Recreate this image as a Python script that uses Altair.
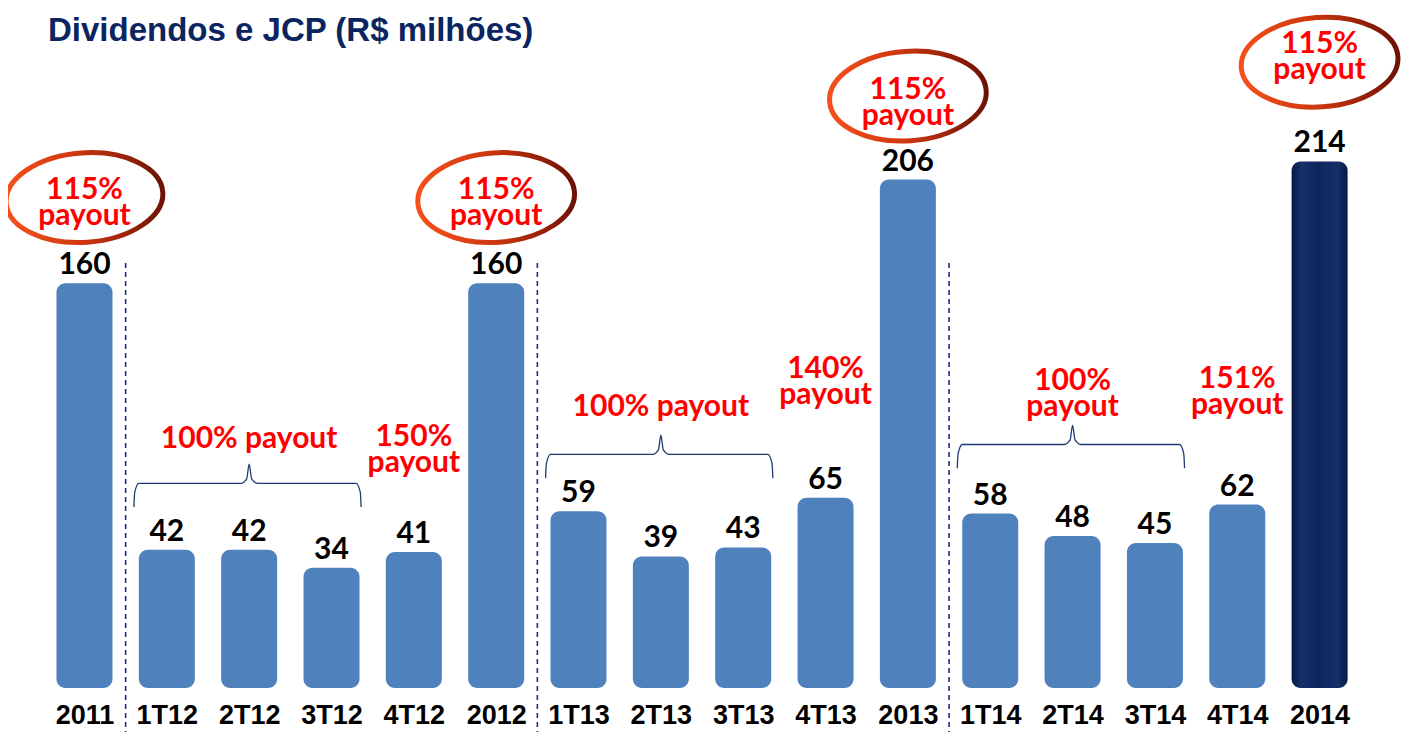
import json
import altair as alt
import pandas as pd

# ---------------- data ----------------
categories = ["2011", "1T12", "2T12", "3T12", "4T12", "2012",
              "1T13", "2T13", "3T13", "4T13", "2013",
              "1T14", "2T14", "3T14", "4T14", "2014"]
values = [160, 42, 42, 34, 41, 160, 59, 39, 43, 65, 206, 58, 48, 45, 62, 214]

payout_cats = ["2011", "2012", "2013", "2014"]
payout_texts = ["115%\npayout", "115%\npayout", "115%\npayout", "115%\npayout"]

group_anchor_cats = ["2T12", "4T12", "2T13", "4T13", "2T14", "4T14"]
group_texts = ["100% payout", "150%\npayout", "100% payout",
               "140%\npayout", "100%\npayout", "151%\npayout"]

brace_starts = ["1T12", "1T13", "1T14"]
brace_ends = ["3T12", "3T13", "3T14"]

highlight_cat = "2014"
TITLE = "Dividendos e JCP (R$ milhões)"

# ---------------- layout (data units) ----------------
Y0, Y1 = -19.3, 282.0
X0, X1 = -0.868, 15.94
ELLIPSE_LEVEL = [198, 198, 243, 258]
PAYOUT_TEXT_LEVEL = [195.5, 195.5, 240, 260.5]
GROUP_TEXT_LEVEL = [91, 86, 105, 116.5, 111, 112]
BRACE_LEVEL = [71.4, 84.2, 88.6]
SEP_TOP = 169

W, H = 1394, 680
LH = 26  # line height of two-line annotations

idx = {c: i for i, c in enumerate(categories)}

bars = pd.DataFrame({"x": list(range(len(categories))), "cat": categories, "val": values})
bars["hl"] = [1 if c == highlight_cat else 0 for c in categories]

ell = pd.DataFrame({"x": [idx[c] for c in payout_cats], "y": ELLIPSE_LEVEL})
ptxt = pd.DataFrame({"x": [idx[c] for c in payout_cats], "y": PAYOUT_TEXT_LEVEL, "t": payout_texts})
gtxt = pd.DataFrame({"x": [idx[c] for c in group_anchor_cats], "y": GROUP_TEXT_LEVEL, "t": group_texts})
gtxt["n"] = [t.count("\n") + 1 for t in group_texts]

seps = pd.DataFrame({"x": [i + 0.5 for i in range(len(categories) - 1)
                            if "T" not in categories[i] and "T" in categories[i + 1]]})

rows = []
for b, (a, z, lvl) in enumerate(zip(brace_starts, brace_ends, BRACE_LEVEL)):
    L = idx[a] - 0.4
    R = idx[z] + 0.36
    C = (idx[a] + idx[z]) / 2
    pts = [(L, lvl - 10.5), (L + 0.01, lvl - 4), (L + 0.06, lvl), (C - 0.1, lvl),
           (C - 0.03, lvl + 2), (C, lvl + 8.5), (C + 0.03, lvl + 2), (C + 0.1, lvl),
           (R - 0.06, lvl), (R - 0.01, lvl - 4), (R, lvl - 10.5)]
    for k, (px, py) in enumerate(pts):
        rows.append({"b": b, "o": k, "x": px, "y": py})
braces = pd.DataFrame(rows)

xs = alt.Scale(domain=[X0, X1], nice=False, zero=False)
ys = alt.Scale(domain=[Y0, Y1], nice=False, zero=False)

label_expr = json.dumps(categories) + "[datum.value]"
x_axis = alt.Axis(values=list(range(len(categories))), labelExpr=label_expr,
                  domain=False, ticks=False, grid=False, title=None,
                  labelFont="Liberation Sans", labelFontWeight="bold",
                  labelFontSize=27, labelColor="#000000", labelPadding=14,
                  labelOverlap=False, labelFlush=False)


def X(field="x"):
    return alt.X(f"{field}:Q", scale=xs, axis=x_axis)


def Yq(field="y"):
    return alt.Y(f"{field}:Q", scale=ys, axis=None)


base_bar = alt.Chart(bars).transform_calculate(base=str(Y0)).encode(
    x=X(), y=Yq("val"), y2="base:Q")

bars_light = base_bar.mark_bar(width=56, cornerRadius=9, color="#4F81BD").transform_filter(
    "datum.hl == 0")

navy = alt.LinearGradient(
    gradient="linear", x1=0, x2=1, y1=0, y2=0,
    stops=[alt.GradientStop(offset=0, color="#081A44"),
           alt.GradientStop(offset=0.18, color="#152F6A"),
           alt.GradientStop(offset=0.5, color="#0E265C"),
           alt.GradientStop(offset=0.82, color="#152F6A"),
           alt.GradientStop(offset=1, color="#081A44")])
bars_dark = base_bar.mark_bar(width=56, cornerRadius=9, color=navy).transform_filter(
    "datum.hl == 1")

val_labels = alt.Chart(bars).mark_text(
    font="Lato", fontWeight="bold", fontSize=30, color="#000000",
    baseline="alphabetic", dy=-9).encode(
    x=X(), y=Yq("val"), text="val:Q")

seps_layer = alt.Chart(seps).transform_calculate(
    top=str(SEP_TOP), bot=str(Y0 - 30)).mark_rule(
    color="#1F2A80", strokeDash=[5, 4], strokeWidth=1.6).encode(
    x=X(), y=Yq("top"), y2="bot:Q")

ELLIPSE = "M-1,0A1,0.57,0,1,1,1,0A1,0.57,0,1,1,-1,0Z"
red_grad = alt.LinearGradient(
    gradient="linear", x1=0, x2=1, y1=0, y2=0,
    stops=[alt.GradientStop(offset=0, color="#F5501C"),
           alt.GradientStop(offset=0.45, color="#D0380F"),
           alt.GradientStop(offset=1, color="#6E1205")])
ellipses = alt.Chart(ell).mark_point(
    shape=ELLIPSE, size=157 * 157, filled=False, stroke=red_grad,
    strokeWidth=5, opacity=1, angle=356).encode(x=X(), y=Yq())

red_text = dict(font="Lato", fontWeight="bold", fontSize=30, color="#FF0000",
                lineBreak="\n", lineHeight=LH, baseline="middle")

payout_text = alt.Chart(ptxt).mark_text(dy=-LH / 2, **red_text).encode(
    x=X(), y=Yq(), text="t:N")

group_text_2 = alt.Chart(gtxt).transform_filter("datum.n == 2").mark_text(
    dy=-LH / 2, **red_text).encode(x=X(), y=Yq(), text="t:N")
group_text_1 = alt.Chart(gtxt).transform_filter("datum.n == 1").mark_text(
    **red_text).encode(x=X(), y=Yq(), text="t:N")

brace_layer = alt.Chart(braces).mark_line(
    color="#1F3A73", strokeWidth=1.3, interpolate="monotone").encode(
    x=X(), y=Yq(), detail="b:N", order="o:Q")

title_layer = alt.Chart(pd.DataFrame({"t": [TITLE]})).mark_text(
    font="Liberation Sans", fontWeight="bold", fontSize=33, color="#0B2560",
    align="left", baseline="alphabetic").encode(
    x=alt.value(40), y=alt.value(33), text="t:N")

chart = alt.layer(
    bars_light, bars_dark, seps_layer, brace_layer, val_labels,
    ellipses, payout_text, group_text_2, group_text_1, title_layer
).properties(
    width=W, height=H,
    autosize=alt.AutoSizeParams(type="none"),
    padding={"left": 0, "top": 0, "right": 0, "bottom": 44},
    background="#FFFFFF",
).configure_view(stroke=None)

chart.save("out.html", embed_options={"renderer": "svg", "actions": False})
